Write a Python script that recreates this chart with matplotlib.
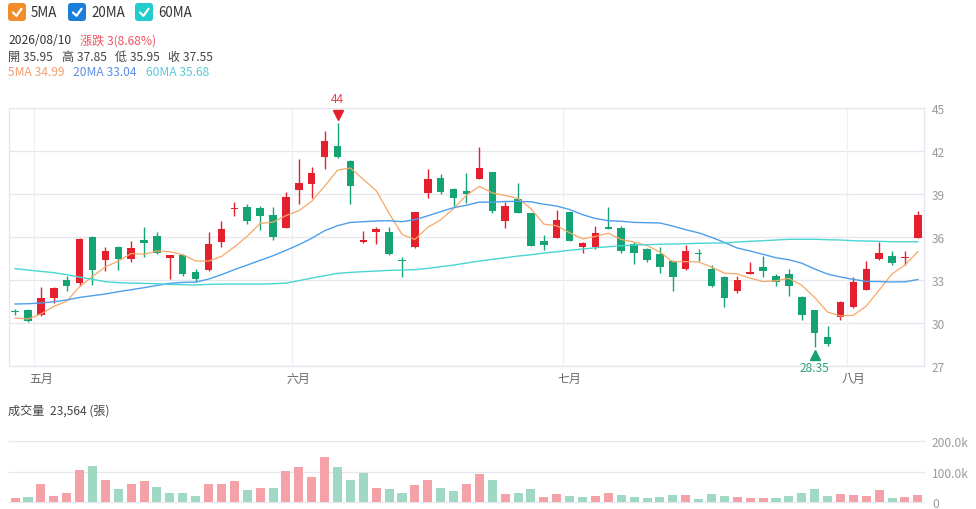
import matplotlib
matplotlib.use('Agg')
import matplotlib.pyplot as plt
import matplotlib.transforms as mtransforms
from matplotlib.patches import FancyBboxPatch
import numpy as np
import pandas as pd

plt.rcParams['font.family'] = ['Noto Sans CJK TC', 'DejaVu Sans']

# ---------------- data ----------------
opens = [30.85, 30.91, 30.56, 31.72, 33.03, 32.79, 36.03, 34.40, 35.33, 34.47,
         35.82, 36.08, 34.56, 34.75, 33.54, 33.68, 35.68, 37.95, 38.08, 38.04,
         37.55, 36.66, 39.32, 39.71, 41.58, 42.34, 41.34, 35.64, 36.36, 36.33,
         34.35, 35.31, 39.06, 40.11, 39.36, 39.25, 40.06, 40.55, 37.15, 38.66,
         37.66, 35.71, 35.96, 37.73, 35.31, 35.29, 36.71, 36.61, 35.54, 35.17,
         34.84, 34.33, 33.77, 34.85, 33.77, 33.24, 32.26, 33.42, 33.94, 33.31,
         33.45, 31.84, 30.88, 29.02, 30.40, 31.09, 32.33, 34.47, 34.66, 34.52,
         35.95]
highs = [31.00, 30.97, 32.49, 32.49, 33.28, 35.92, 36.08, 35.33, 35.38, 35.71,
         36.73, 36.36, 34.77, 34.80, 33.77, 36.33, 37.13, 38.43, 38.34, 38.20,
         38.13, 39.13, 41.44, 40.92, 43.42, 44.00, 41.39, 36.45, 36.73, 36.73,
         34.61, 37.76, 40.74, 40.41, 39.41, 40.48, 42.27, 40.57, 38.43, 39.76,
         37.69, 36.13, 37.90, 37.75, 35.68, 36.78, 38.13, 36.80, 35.64, 35.24,
         35.29, 34.38, 35.45, 35.15, 34.05, 33.28, 33.31, 34.26, 34.66, 33.40,
         33.77, 31.86, 30.93, 29.77, 31.54, 33.19, 34.33, 35.68, 35.03, 35.03,
         37.85]
lows = [30.55, 30.10, 30.51, 31.40, 32.26, 32.61, 32.68, 33.66, 33.70, 34.28,
        34.63, 34.80, 33.07, 33.28, 32.84, 33.63, 35.33, 37.45, 36.89, 36.50,
        35.82, 36.61, 38.31, 38.71, 40.74, 41.55, 38.29, 35.60, 35.52, 34.77,
        33.24, 35.26, 38.76, 39.04, 38.15, 38.41, 40.04, 37.71, 36.61, 37.69,
        35.38, 35.10, 35.92, 35.73, 34.91, 35.15, 36.55, 34.87, 34.12, 34.28,
        33.52, 32.24, 33.73, 34.31, 32.49, 31.09, 32.07, 33.40, 33.19, 32.61,
        31.91, 30.23, 28.35, 28.40, 30.23, 31.05, 32.30, 34.40, 34.05, 34.05,
        35.95]
closes = [30.78, 30.14, 31.72, 32.42, 32.56, 35.87, 33.73, 35.01, 34.47, 35.22,
          35.59, 34.89, 34.75, 33.40, 33.07, 35.52, 36.54, 38.05, 37.15, 37.50,
          36.01, 38.80, 39.76, 40.48, 42.74, 41.62, 39.55, 35.80, 36.54, 34.80,
          34.30, 37.73, 40.06, 39.15, 38.71, 39.01, 40.81, 37.80, 38.20, 37.71,
          35.40, 35.45, 37.22, 35.75, 35.57, 36.26, 36.57, 35.03, 34.87, 34.38,
          33.91, 33.24, 35.03, 34.80, 32.58, 31.77, 32.98, 33.54, 33.63, 32.84,
          32.61, 30.56, 29.30, 28.53, 31.49, 32.84, 33.77, 34.89, 34.19, 34.55,
          37.55]
# closes of the four sessions before the window (needed for the first 5MA points)
closes_before = [30.49, 29.97, 29.77, 30.74]

volumes = [13000, 16000, 58000, 19000, 31000, 104000, 117000, 74000, 43000, 58000,
           68000, 49000, 31000, 29000, 20000, 61000, 60000, 70000, 41000, 48000,
           46000, 103000, 115000, 82000, 148000, 113000, 71000, 94000, 45000, 43000,
           31000, 57000, 74000, 48000, 37000, 61000, 91000, 72000, 28000, 31000,
           43000, 17000, 27000, 21000, 16000, 19000, 30000, 24000, 18000, 14000,
           18000, 24000, 24000, 10000, 28000, 21000, 17000, 15000, 15000, 15000,
           20000, 30000, 43000, 20000, 27000, 25000, 21000, 39000, 13000, 16000,
           23564]

ma20 = [31.33, 31.35, 31.40, 31.49, 31.61, 31.79, 31.91, 32.03, 32.19, 32.33,
        32.47, 32.63, 32.77, 32.84, 32.86, 33.07, 33.38, 33.73, 34.05, 34.38,
        34.70, 35.08, 35.47, 35.92, 36.45, 36.80, 37.03, 37.08, 37.13, 37.15,
        37.08, 37.22, 37.49, 37.78, 38.06, 38.23, 38.45, 38.44, 38.49, 38.50,
        38.47, 38.30, 38.17, 37.93, 37.57, 37.30, 37.15, 37.11, 37.03, 37.01,
        36.99, 36.77, 36.52, 36.30, 35.99, 35.63, 35.24, 35.03, 34.80, 34.56,
        34.42, 34.18, 33.78, 33.42, 33.22, 33.05, 32.91, 32.90, 32.87, 32.88,
        33.04]
ma60 = [33.80, 33.70, 33.61, 33.52, 33.38, 33.21, 33.05, 32.89, 32.82, 32.79,
        32.77, 32.75, 32.70, 32.68, 32.66, 32.70, 32.72, 32.72, 32.72, 32.72,
        32.75, 32.79, 32.96, 33.14, 33.31, 33.47, 33.54, 33.59, 33.63, 33.68,
        33.70, 33.73, 33.82, 33.94, 34.05, 34.19, 34.33, 34.45, 34.56, 34.68,
        34.77, 34.89, 34.98, 35.08, 35.17, 35.26, 35.33, 35.40, 35.45, 35.47,
        35.50, 35.52, 35.54, 35.57, 35.59, 35.59, 35.66, 35.71, 35.75, 35.80,
        35.85, 35.85, 35.85, 35.82, 35.80, 35.75, 35.73, 35.71, 35.68, 35.68,
        35.68]

month_labels = ['五月', '六月', '七月', '八月']
month_idx = [2, 22, 43, 65]
price_ticks = [27, 30, 33, 36, 39, 42, 45]
vol_ticks = [0, 100000, 200000]
vol_tick_labels = ['0', '100.0k', '200.0k']

last_date = '2026/08/10'

# ---------------- derived ----------------
df = pd.DataFrame({'open': opens, 'high': highs, 'low': lows,
                   'close': closes, 'volume': volumes,
                   'ma20': ma20, 'ma60': ma60})
all_closes = pd.Series(closes_before + closes)
df['ma5'] = all_closes.rolling(5).mean().iloc[len(closes_before):].values
x = np.arange(len(df))

RED = '#e5202e'
GREEN = '#14a372'
VOL_RED = '#f4a2a8'
VOL_GREEN = '#9fd9c4'
GRID = '#e4e7ef'
C5, C20, C60 = '#f6a866', '#4e9fe8', '#4ad5d5'

W, H = 976, 510
fig = plt.figure(figsize=(W / 100, H / 100), dpi=100)


def fbox(x0, y0, x1, y1):
    # pixel box (top-left origin) -> figure fractions
    return [x0 / W, 1 - y1 / H, (x1 - x0) / W, (y1 - y0) / H]


# ---------------- price panel ----------------
ax = fig.add_axes(fbox(9.3, 109.3, 924.3, 367.0))
ax.set_xlim(-0.45, len(df) - 0.5)
ax.set_ylim(27, 45)
ax.set_yticks(price_ticks)
ax.yaxis.tick_right()
ax.tick_params(axis='y', length=0, pad=5.5, labelsize=8.6, labelcolor='#9a9a9a')
ax.set_xticks(month_idx, month_labels)
ax.tick_params(axis='x', length=0, pad=4, labelsize=8.6, labelcolor='#666666')
for s in ax.spines.values():
    s.set_color(GRID)
    s.set_linewidth(0.9)
for t in price_ticks:
    ax.axhline(t, color=GRID, lw=0.9, zorder=0)
for m in month_idx:
    ax.axvline(m - 0.5, color='#eef0f5', lw=0.9, zorder=0)

up = df['close'] >= df['open']
ccol = np.where(up, RED, GREEN)
ax.vlines(x, df['low'], df['high'], colors=ccol, lw=1.0, zorder=2)
body_lo = np.minimum(df['open'], df['close'])
body_h = np.maximum((df['close'] - df['open']).abs(), 0.07)
ax.bar(x, body_h, bottom=body_lo, width=0.58, color=ccol, zorder=3, linewidth=0)

ax.plot(x, df['ma5'], color=C5, lw=0.9, zorder=4)
ax.plot(x, df['ma20'], color=C20, lw=1.0, zorder=4)
ax.plot(x, df['ma60'], color=C60, lw=1.0, zorder=4)

# max / min markers
imax = int(df['high'].idxmax())
imin = int(df['low'].idxmin())
hi, lo = df['high'][imax], df['low'][imin]
tri_up = mtransforms.offset_copy(ax.transData, fig=fig, x=0, y=8 * 0.72, units='points')
tri_dn = mtransforms.offset_copy(ax.transData, fig=fig, x=0, y=-8 * 0.72, units='points')
ax.plot(imax, hi, marker='v', color=RED, markersize=7.5, transform=tri_up,
        zorder=5, clip_on=False)
ax.plot(imin, lo, marker='^', color=GREEN, markersize=7.5, transform=tri_dn,
        zorder=5, clip_on=False)
ax.annotate(f'{hi:g}', (imax, hi), xytext=(0, 24.5 * 0.72), textcoords='offset points',
            ha='center', va='center', fontsize=8.6, color='#e5414b', annotation_clip=False)
ax.annotate(f'{lo:.2f}', (imin, lo), xytext=(0, -20.5 * 0.72), textcoords='offset points',
            ha='center', va='center', fontsize=8.6, color='#2fa57f', annotation_clip=False)

# ---------------- volume panel ----------------
vax = fig.add_axes(fbox(9.3, 441.7, 924.3, 503.3))
vax.set_xlim(ax.get_xlim())
vax.set_ylim(0, 200000)
prev_close = df['close'].shift(1).fillna(df['close'])
vcol = np.where(df['close'] >= prev_close, VOL_RED, VOL_GREEN)
vax.bar(x, df['volume'], width=0.7, color=vcol, linewidth=0, zorder=2)
for t in vol_ticks:
    vax.axhline(t, color=GRID, lw=0.9, zorder=0, clip_on=False)
for s in vax.spines.values():
    s.set_visible(False)
vax.set_xticks([])
vax.set_yticks(vol_ticks, vol_tick_labels)
vax.yaxis.tick_right()
vax.tick_params(axis='y', length=0, pad=5.5, labelsize=8.6, labelcolor='#9a9a9a')

# ---------------- header / legend ----------------
deco = fig.add_axes([0, 0, 1, 1])
deco.set_xlim(0, W)
deco.set_ylim(H, 0)
deco.axis('off')

legend_items = [('5MA', '#f28d2b', 8), ('20MA', '#1b7fd9', 68), ('60MA', '#21cccc', 135)]
for name, col, bx in legend_items:
    deco.add_patch(FancyBboxPatch((bx + 2, 6), 14, 14, boxstyle='round,pad=2,rounding_size=3',
                                  facecolor=col, edgecolor='none'))
    deco.plot([bx + 5, bx + 8.5, bx + 13.5], [13.5, 16.8, 9.8], color='white',
              lw=1.6, solid_capstyle='round', solid_joinstyle='round')
    deco.text(bx + 23, 13, name, fontsize=9.6, color='#333333', va='center', ha='left')

last = df.iloc[-1]
chg = last['close'] - df['close'].iloc[-2]
pct = chg / df['close'].iloc[-2] * 100
fs = 8.7
deco.text(8, 41, last_date, fontsize=fs, color='#333333', va='center')
deco.text(80, 41, f'漲跌 {chg:.0f}({pct:.2f}%)', fontsize=fs, color='#ef5660', va='center')

ohlc_items = [('開', last['open'], 8), ('高', last['high'], 62),
              ('低', last['low'], 115), ('收', last['close'], 168)]
for lab, val, tx in ohlc_items:
    deco.text(tx, 57, f'{lab} {val:.2f}', fontsize=fs, color='#444444', va='center')

ma_items = [('5MA', last['ma5'], '#f59e6e', 8), ('20MA', last['ma20'], '#5b8de6', 73),
            ('60MA', last['ma60'], '#56cbdc', 146)]
for lab, val, col, tx in ma_items:
    deco.text(tx, 72, f'{lab} {val:.2f}', fontsize=fs, color=col, va='center')

deco.text(8, 411.5, f'成交量  {last["volume"]:,.0f} (張)', fontsize=fs,
          color='#444444', va='center')

fig.savefig('out.png', dpi=100)
